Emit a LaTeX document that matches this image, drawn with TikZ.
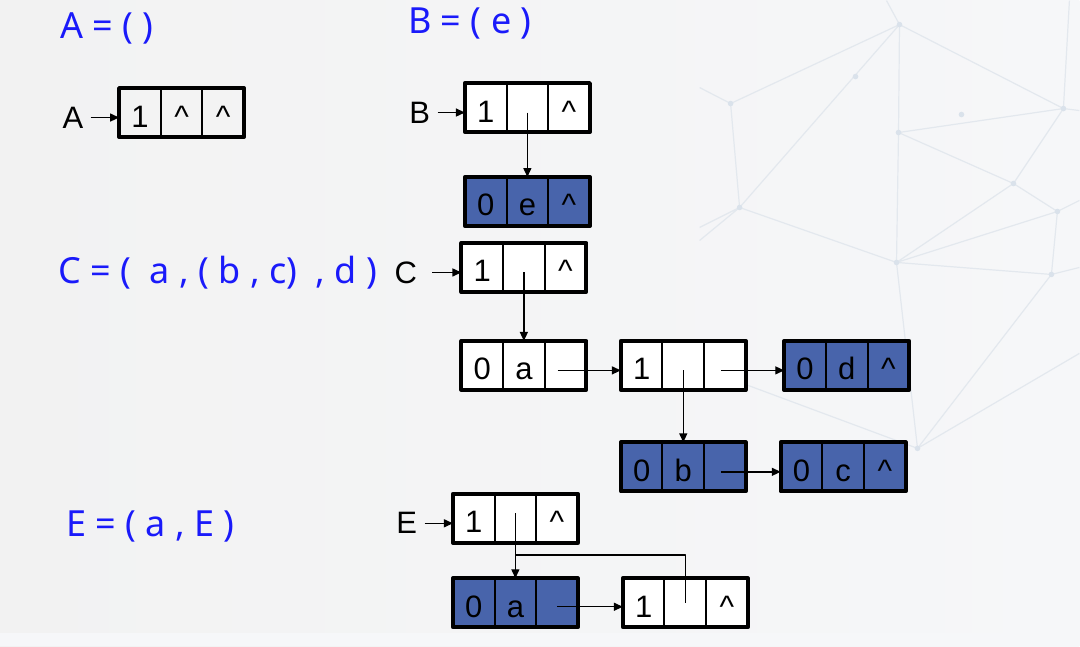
\documentclass[tikz,border=0pt]{standalone}
\usepackage{fontspec}
\setmainfont{Liberation Sans}
\newfontfamily\formfont{Noto Sans}
\usetikzlibrary{arrows.meta,positioning,calc}
\definecolor{listblue}{RGB}{72,100,171}
\definecolor{formblue}{RGB}{26,26,250}
\definecolor{bgleft}{RGB}{242,242,242}
\definecolor{bgright}{RGB}{246,247,249}
\definecolor{netline}{RGB}{227,232,238}
\definecolor{netdot}{RGB}{218,226,235}
\begin{document}
\begin{tikzpicture}[x=0.5pt,y=-0.5pt,line join=round,
    cell/.style={draw,line width=1pt,minimum width=20.83pt,minimum height=24.5pt,
      inner sep=0pt,outer sep=0pt,text height=14.5pt,text depth=0pt,
      font=\fontsize{15.5}{18}\selectfont},
    frame/.style={draw,line width=2pt},
    ptr/.style={line width=0.7pt,-{Triangle[length=4.5pt,width=4pt]}},
    lab/.style={font=\fontsize{15.5}{18}\selectfont,inner sep=3.5pt},
    form/.style={font=\formfont\fontsize{18}{22}\selectfont,text=formblue,
      anchor=base west,inner sep=0pt},
    net/.style={draw=netline,line width=0.6pt}]
\shade[left color=bgleft,right color=bgright] (0,0) rectangle (1080,646);
\fill[bgright] (0,633) rectangle (1080,646);
% faint network in the background
\draw[net] (887,0)--(900,24)--(731,103)--(700,87) (900,24)--(899,132)--(897,262)--(918,448)
  (900,24)--(740,207)--(700,227) (731,103)--(740,207)--(897,262)--(1052,274)--(1080,267)
  (900,24)--(1064,108)--(1070,0) (899,132)--(1064,108)--(1080,110) (1064,108)--(1014,183)--(1058,211)--(1080,200)
  (899,132)--(1014,183)--(897,262)--(1058,211)--(1052,274)--(918,448)--(1080,353)
  (918,448)--(700,367) (740,207)--(700,240);
\foreach \x/\y in {900/24,731/103,899/132,1064/108,1014/183,1058/211,897/262,1052/274,918/448,740/207,856/76,962/114}
  \fill[netdot] (\x,\y) circle (1.4pt);
% formulas
\node[form] (aform) at (60,38) {A = ( )};
\node[form] (bform) at (408,33) {B = ( e )};
\node[form] (cform) at (58,283) {C = (\ \ a , ( b , c)\ \ , d )};
\node[form] (eform) at (66,536) {E = ( a , E )};
% list nodes: tag, head pointer, tail pointer
\foreach \n/\x/\y/\f/\p/\q/\r in {
    a1/140/112/none/1/\textasciicircum/\textasciicircum,
    b1/486/107/white/1//\textasciicircum, b2/486/201/listblue/0/e/\textasciicircum,
    c1/482.5/267/white/1//\textasciicircum, c2/482.5/365/white/0/a/,
    c3/642/365/white/1//, c4/805.5/365/listblue/0/d/\textasciicircum,
    c5/642/466.5/listblue/0/b/, c6/802/466.5/listblue/0/c/\textasciicircum,
    e1/474/518/white/1//\textasciicircum, e2/474/602.5/listblue/0/a/,
    e3/644/602.5/white/1//\textasciicircum}{
  \node[cell,fill=\f] (\n-tag) at (\x,\y) {\p};
  \node[cell,fill=\f,right=0pt of \n-tag] (\n-hp) {\q};
  \node[cell,fill=\f,right=0pt of \n-hp] (\n-tp) {\r};
  \draw[frame] (\n-tag.north west) rectangle (\n-tp.south east);
}
% head labels
\node[lab] (alab) at (73,117) {A};
\node[lab] (blab) at (420,112) {B};
\node[lab] (clab) at (406,272) {C};
\node[lab] (elab) at (407,523) {E};
\draw[ptr] (alab.east) -- (alab.east -| a1-tag.west);
\draw[ptr] (blab.east) -- (blab.east -| b1-tag.west);
\draw[ptr] ([xshift=4pt]clab.east) -- (clab.east -| c1-tag.west);
\draw[ptr] (elab.east) -- (elab.east -| e1-tag.west);
% pointers
\draw[ptr] ([yshift=-2.5pt]b1-hp.center) -- (b2-hp.north);
\draw[ptr] ([yshift=-2.5pt]c1-hp.center) -- (c2-hp.north);
\draw[ptr] ([xshift=-4pt,yshift=-2.5pt]c2-tp.center) -- ([yshift=-2.5pt]c3-tag.west);
\draw[ptr] ([yshift=-2.5pt]c3-hp.center) -- (c5-hp.north);
\draw[ptr] ([xshift=-2pt,yshift=-2.5pt]c3-tp.center) -- ([yshift=-2.5pt]c4-tag.west);
\draw[ptr] ([xshift=-2pt,yshift=-2.5pt]c5-tp.center) -- ([yshift=-2.5pt]c6-tag.west);
\coordinate (ejoin) at ([yshift=-6.2pt]e1-hp.south);
\draw[ptr] ([yshift=2.5pt]e1-hp.center) -- (e2-hp.north);
\draw[line width=0.7pt] (e3-hp.center) |- (ejoin);
\draw[ptr] ([yshift=-2pt]e2-tp.center) -- ([yshift=-2pt]e3-tag.west);
\end{tikzpicture}
\end{document}
